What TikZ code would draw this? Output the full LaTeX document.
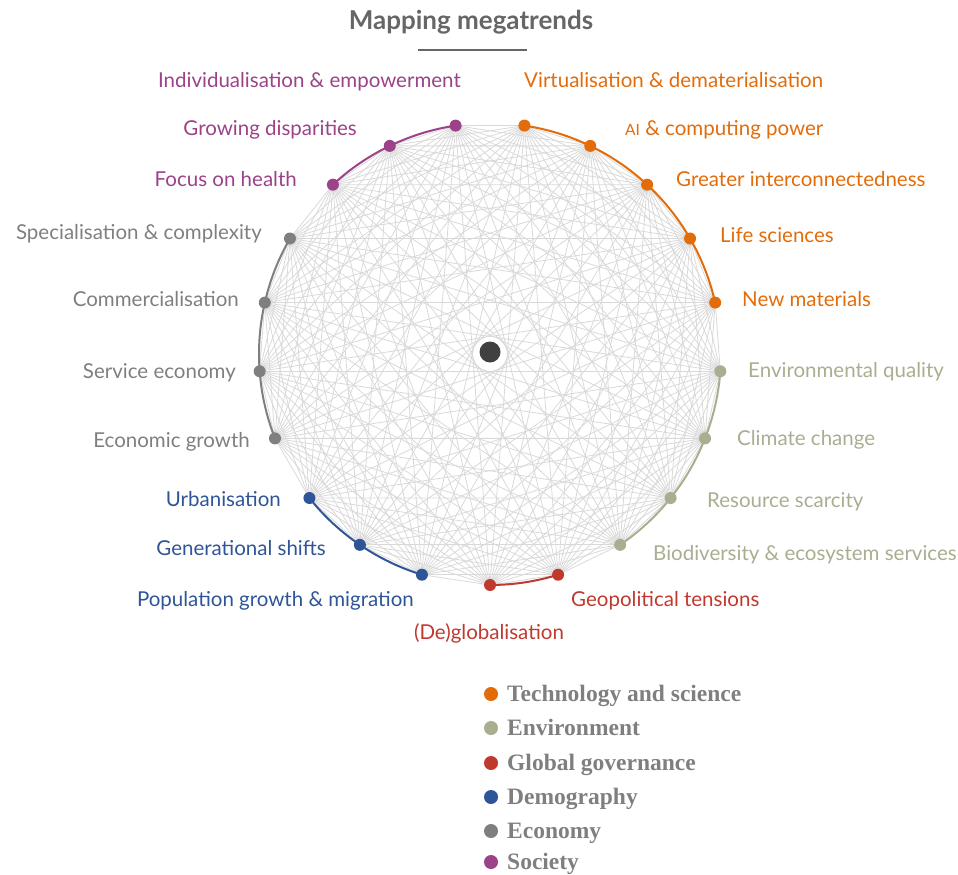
\documentclass[tikz,border=0pt]{standalone}
\usepackage{fontspec}
\setmainfont{Lato}
\newfontfamily\keyfont{Liberation Serif}

\definecolor{techcol}{HTML}{E36C0A}
\definecolor{envcol}{HTML}{A9AE91}
\definecolor{govcol}{HTML}{C0392F}
\definecolor{democol}{HTML}{2E5597}
\definecolor{econcol}{HTML}{7F7F7F}
\definecolor{soccol}{HTML}{9B4289}
\definecolor{linkgray}{HTML}{D9D9D9}
\definecolor{titlegray}{HTML}{666666}
\definecolor{hubgray}{HTML}{404040}

\tikzset{
  trend/.style={font=\fontsize{20.5}{24}\selectfont, inner sep=0pt, text=#1},
  dot/.style={circle, fill=#1, inner sep=0pt, minimum size=12pt},
  link/.style={draw=linkgray, line width=0.8pt},
  rim/.style={draw=#1, line width=2pt},
  key/.style={font=\keyfont\bfseries\fontsize{23.5}{28}\selectfont, text=econcol, anchor=base west, inner sep=0pt},
}

\begin{document}
\begin{tikzpicture}[x=1pt, y=-1pt]
\useasboundingbox (0,0) rectangle (958,875);

% title
\node[font=\bfseries\fontsize{26}{30}\selectfont, text=titlegray, anchor=base, inner sep=0pt] (title) at (471,30) {Mapping megatrends};
\draw[titlegray, line width=2.5pt] (418,50) -- (527,50);

% 21 trends round the circle, clockwise from the top
\begin{scope}[shift={(490,354)}]
\foreach \k in {0,...,20}
  \coordinate (p\k) at ({8.5714+17.1429*\k-90}:231);

% every trend linked to every other
\foreach \i in {0,...,19}{
  \pgfmathtruncatemacro\n{\i+1}
  \foreach \j in {\n,...,20}
    \draw[link] (p\i) -- (p\j);
}

% coloured rim for each group
\foreach \a/\b/\col in {0/4/techcol, 5/8/envcol, 9/10/govcol, 11/13/democol, 14/17/econcol, 18/20/soccol}
  \draw[rim=\col] (p\a) arc[start angle={8.5714+17.1429*\a-90}, end angle={8.5714+17.1429*\b-90}, radius=231];

\foreach \k/\col in {0/techcol, 1/techcol, 2/techcol, 3/techcol, 4/techcol,
                     5/envcol, 6/envcol, 7/envcol, 8/envcol,
                     9/govcol, 10/govcol,
                     11/democol, 12/democol, 13/democol,
                     14/econcol, 15/econcol, 16/econcol, 17/econcol,
                     18/soccol, 19/soccol, 20/soccol}
  \node[dot=\col] (d\k) at (p\k) {};
\end{scope}

% hub
\fill[white] (490,352) circle (15);
\node[circle, fill=hubgray, inner sep=0pt, minimum size=21pt] (hub) at (490,352) {};

% labels
\node[trend=techcol, anchor=base west] (lvirt) at (524,87) {Virtualisation \& dematerialisation};
\node[trend=techcol, anchor=base west] (lai) at (625,135) {{\fontsize{15.5}{15}\selectfont AI} \& computing power};
\node[trend=techcol, anchor=base west] (lgreat) at (676,186) {Greater interconnectedness};
\node[trend=techcol, anchor=base west] (llife) at (720,242) {Life sciences};
\node[trend=techcol, anchor=base west] (lnew) at (742,306) {New materials};
\node[trend=envcol, anchor=base west] (lenv) at (748,377) {Environmental quality};
\node[trend=envcol, anchor=base west] (lclim) at (737,445) {Climate change};
\node[trend=envcol, anchor=base west] (lres) at (707,507) {Resource scarcity};
\node[trend=envcol, anchor=base west] (lbio) at (653,560) {Biodiversity \& ecosystem services};
\node[trend=govcol, anchor=base west] (lgeo) at (571,606) {Geopolitical tensions};
\node[trend=govcol, anchor=base] (lglob) at (489,639) {(De)globalisation};
\node[trend=democol, anchor=base east] (lpop) at (414,606) {Population growth \& migration};
\node[trend=democol, anchor=base east] (lgen) at (326,555) {Generational shifts};
\node[trend=democol, anchor=base east] (lurb) at (281,506) {Urbanisation};
\node[trend=econcol, anchor=base east] (lgrow) at (250,447) {Economic growth};
\node[trend=econcol, anchor=base east] (lserv) at (236,378) {Service economy};
\node[trend=econcol, anchor=base east] (lcomm) at (239,306) {Commercialisation};
\node[trend=econcol, anchor=base east] (lspec) at (262,239) {Specialisation \& complexity};
\node[trend=soccol, anchor=base east] (lhealth) at (297,186) {Focus on health};
\node[trend=soccol, anchor=base east] (ldisp) at (357,135) {Growing disparities};
\node[trend=soccol, anchor=base east] (lind) at (461,87) {Individualisation \& empowerment};

% legend
\foreach \y/\col/\txt in {694/techcol/Technology and science, 728/envcol/Environment,
                          763/govcol/Global governance, 797/democol/Demography,
                          831/econcol/Economy, 862/soccol/Society}{
  \node[dot=\col, minimum size=14pt] (k\y) at (491,\y) {};
  \node[key] (t\y) at (507,\y+7) {\txt};
}
\end{tikzpicture}
\end{document}
